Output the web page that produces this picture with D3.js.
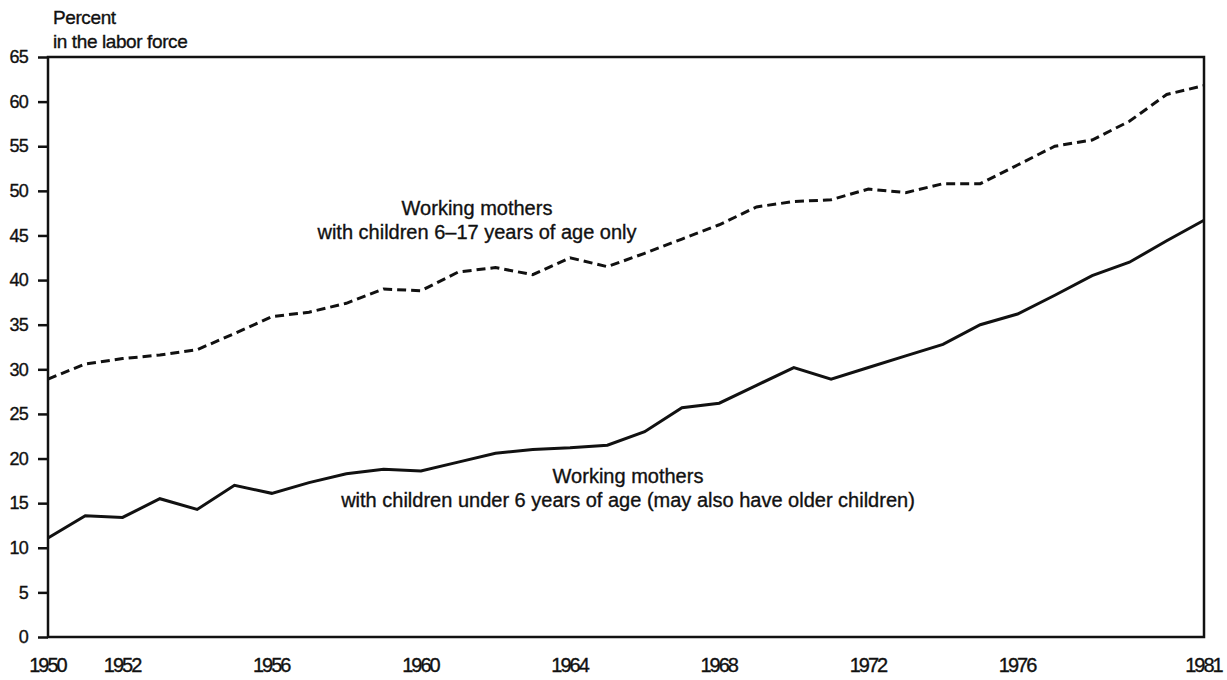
<!DOCTYPE html>
<html>
<head>
<meta charset="utf-8">
<script src="https://cdn.jsdelivr.net/npm/d3@7"></script>
<style>
  body { margin: 0; background: #fff; }
  text { font-family: "Liberation Sans", Arial, sans-serif; fill: #111; stroke: #111; stroke-width: 0.35px; }
</style>
</head>
<body>
<svg width="1227" height="680"></svg>
<script>
// years on the x axis
var years = d3.range(1950, 1982);
// mothers with children 6-17 only
var olderKids = [28.9, 30.6, 31.2, 31.6, 32.2, 34.0, 35.9, 36.4, 37.4, 39.0, 38.8,
  40.9, 41.4, 40.6, 42.5, 41.5, 43.0, 44.6, 46.2, 48.2, 48.8, 49.0, 50.2, 49.8,
  50.8, 50.8, 52.9, 55.0, 55.7, 57.8, 60.8, 61.8];
// mothers with children under 6
var youngKids = [11.1, 13.6, 13.4, 15.5, 14.3, 17.0, 16.1, 17.3, 18.3, 18.8, 18.6,
  19.6, 20.6, 21.0, 21.2, 21.5, 23.0, 25.7, 26.2, 28.2, 30.2, 28.9, 30.2, 31.5,
  32.8, 35.0, 36.2, 38.3, 40.5, 42.0, 44.4, 46.7];
var yTicks = d3.range(0, 66, 5);
var xLabels = [1950, 1952, 1956, 1960, 1964, 1968, 1972, 1976, 1981];

var svg = d3.select("svg"),
    margin = {top: 57, right: 23, bottom: 43, left: 48},
    width = +svg.attr("width") - margin.left - margin.right,
    height = +svg.attr("height") - margin.top - margin.bottom;

var x = d3.scaleLinear().domain([1950, 1981]).range([0, width]),
    y = d3.scaleLinear().domain([0, 65]).range([height, 0]);

var g = svg.append("g")
    .attr("transform", "translate(" + margin.left + "," + margin.top + ")");

// frame
g.append("rect")
    .attr("width", width)
    .attr("height", height)
    .attr("fill", "none")
    .attr("stroke", "#111")
    .attr("stroke-width", 2.5);

// y axis
var yAxis = g.append("g")
    .call(d3.axisLeft(y).tickValues(yTicks).tickSize(10).tickPadding(10));
yAxis.select(".domain").remove();
yAxis.selectAll("line").attr("stroke", "#111").attr("stroke-width", 2.5);
yAxis.selectAll("text").attr("font-size", 18).attr("letter-spacing", "-0.8px");

// x axis labels only
var xAxis = g.append("g")
    .attr("transform", "translate(0," + height + ")")
    .call(d3.axisBottom(x).tickValues(xLabels).tickFormat(d3.format("d")).tickSize(0).tickPadding(21));
xAxis.select(".domain").remove();
xAxis.selectAll("text").attr("font-size", 20).attr("letter-spacing", "-2px").attr("dx", "-1px");

var line = d3.line()
    .x(function(d, i) { return x(years[i]); })
    .y(function(d) { return y(d); });

g.append("path")
    .datum(olderKids)
    .attr("d", line)
    .attr("fill", "none")
    .attr("stroke", "#111")
    .attr("stroke-width", 3)
    .attr("stroke-dasharray", "9,5");

g.append("path")
    .datum(youngKids)
    .attr("d", line)
    .attr("fill", "none")
    .attr("stroke", "#111")
    .attr("stroke-width", 3);

// axis title
svg.append("text").attr("x", 53).attr("y", 24).attr("font-size", 19).attr("letter-spacing", "-0.4px").text("Percent");
svg.append("text").attr("x", 53).attr("y", 48).attr("font-size", 19).attr("letter-spacing", "-0.4px").text("in the labor force");

// series labels
function label(cx, cy, lines) {
  var t = svg.append("text")
      .attr("text-anchor", "middle")
      .attr("font-size", 20);
  lines.forEach(function(s, i) {
    t.append("tspan").attr("x", cx).attr("y", cy + i * 24).text(s);
  });
}
label(477, 215, ["Working mothers", "with children 6\u201317 years of age only"]);
label(628, 483, ["Working mothers", "with children under 6 years of age (may also have older children)"]);
</script>
</body>
</html>
